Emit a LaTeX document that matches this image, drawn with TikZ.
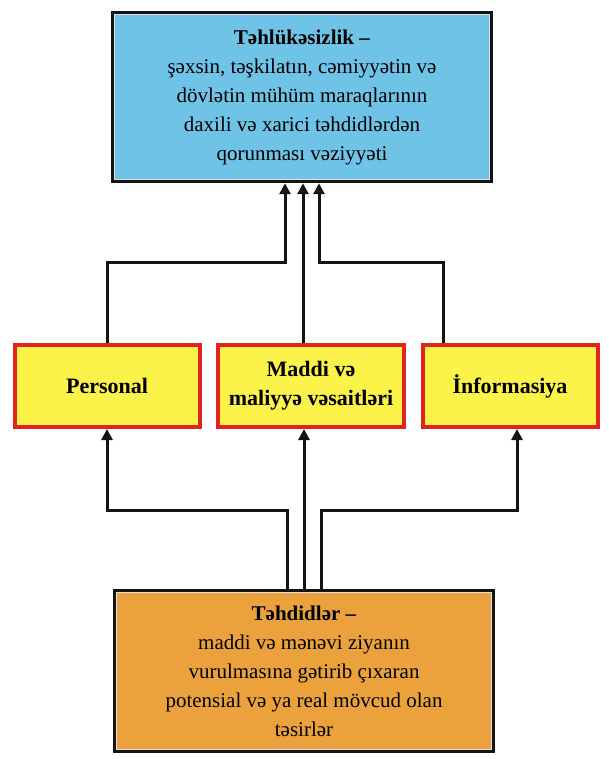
\documentclass[tikz,border=0pt]{standalone}
\usepackage{fontspec}
\setmainfont{LiberationSerif}[Extension=.ttf, UprightFont=*-Regular, BoldFont=*-Bold,
  ItalicFont=*-Italic, BoldItalicFont=*-BoldItalic]
\usetikzlibrary{arrows.meta}

\definecolor{skyfill}{HTML}{6FC3E6}
\definecolor{lemon}{HTML}{FBF24A}
\definecolor{redline}{HTML}{E3231E}
\definecolor{amber}{HTML}{EBA23C}
\definecolor{inkline}{HTML}{141414}

\tikzset{
  mainbox/.style={draw=inkline, line width=4.5pt, align=center, inner sep=0pt,
    font=\fontsize{21}{29}\selectfont},
  itembox/.style={draw=redline, fill=lemon, line width=4pt, align=center, inner sep=0pt,
    minimum height=82pt, font=\bfseries\fontsize{22}{29}\selectfont},
  link/.style={draw=inkline, line width=3pt,
    -{Triangle[length=11pt, width=11pt]}},
}

\begin{document}
\begin{tikzpicture}[x=1pt, y=-1pt]
  \useasboundingbox (0,0) rectangle (608,759);

  % goal: security
  \node[mainbox, fill=skyfill, minimum width=378pt, minimum height=168pt] (goal) at (302,97)
    {\textbf{Təhlükəsizlik –}\\
     şəxsin, təşkilatın, cəmiyyətin və\\
     dövlətin mühüm maraqlarının\\
     daxili və xarici təhdidlərdən\\
     qorunması vəziyyəti};
  \draw[white!75!gray, line width=0.8pt]
    ([shift={(3.5pt,-3.5pt)}]goal.north west) rectangle ([shift={(-3.5pt,3.5pt)}]goal.south east);

  % protected resources
  \node[itembox, minimum width=185pt] (pers) at (107,386) {Personal};
  \node[itembox, minimum width=186pt] (fund) at (311,386) {Maddi və\\maliyyə vəsaitləri};
  \node[itembox, minimum width=175pt] (info) at (510,386) {İnformasiya};

  % threats
  \node[mainbox, fill=amber, minimum width=378pt, minimum height=160pt] (threat) at (304,671)
    {\textbf{Təhdidlər –}\\
     maddi və mənəvi ziyanın\\
     vurulmasına gətirib çıxaran\\
     potensial və ya real mövcud olan\\
     təsirlər};
  \draw[white!75!gray, line width=0.8pt]
    ([shift={(3.5pt,-3.5pt)}]threat.north west) rectangle ([shift={(-3.5pt,3.5pt)}]threat.south east);

  % bend points
  \coordinate (upL) at (285,262);
  \coordinate (upR) at (319,262);
  \coordinate (upM) at (303,262);
  \coordinate (loL) at (287,510);
  \coordinate (loR) at (321,510);
  \coordinate (loM) at (304,510);
  \coordinate (dnL) at (107,510);
  \coordinate (dnR) at (517,510);

  % resources -> security
  \draw[link] (pers.north) |- (upL) -- (upL |- goal.south);
  \draw[link] (upM |- fund.north) -- (upM |- goal.south);
  \draw[link] ([xshift=-67pt]info.north) |- (upR) -- (upR |- goal.south);

  % threats -> resources
  \draw[link] (loL |- threat.north) |- (dnL) -- (dnL |- pers.south);
  \draw[link] (loM |- threat.north) -- (loM |- fund.south);
  \draw[link] (loR |- threat.north) |- (dnR) -- (dnR |- info.south);
\end{tikzpicture}
\end{document}
